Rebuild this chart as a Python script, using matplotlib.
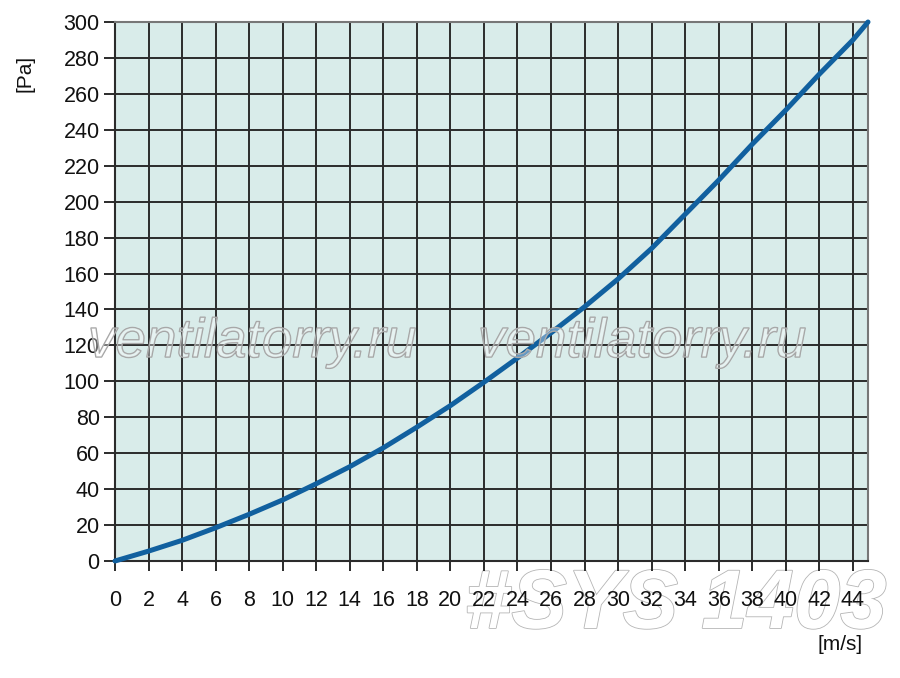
import matplotlib.pyplot as plt
import matplotlib.patheffects as pe

plt.rcParams['font.family'] = ['Liberation Sans', 'DejaVu Sans']

# data
speed = [0, 2, 4, 6, 8, 10, 12, 14, 16, 18, 20, 22, 24, 26, 28, 30,
         32, 34, 36, 38, 40, 42, 44, 44.9]
pressure = [0, 5.5, 11.5, 18.5, 26, 34, 43, 52.5, 63, 74.5, 86.5, 99.5,
            113, 127, 141.5, 157, 174, 193, 212, 232, 251, 271, 290, 300]
x_ticks = list(range(0, 45, 2))
y_ticks = list(range(0, 301, 20))

fig = plt.figure(figsize=(9, 6.78), dpi=100)
ax = fig.add_axes([115 / 900, 1 - 561 / 678, (868 - 115) / 900, (561 - 22) / 678])

ax.set_facecolor('#d9ecea')
ax.plot(speed, pressure, color='#11609f', lw=3.6, solid_capstyle='round',
        clip_on=False, zorder=3)

ax.set_xlim(0, 44.9)
ax.set_ylim(0, 300)
ax.set_xticks(x_ticks)
ax.set_yticks(y_ticks)
ax.grid(True, color='#2b2b2b', lw=1.4)
ax.set_axisbelow(True)

ax.tick_params(axis='x', direction='out', length=7, width=1.4, color='#2b2b2b',
               pad=14, labelsize=15.5, labelcolor='#111111')
ax.tick_params(axis='y', direction='out', length=8, width=1.4, color='#2b2b2b',
               pad=3, labelsize=15.5, labelcolor='#111111')

for side in ['left', 'bottom']:
    ax.spines[side].set_color('#2b2b2b')
    ax.spines[side].set_linewidth(1.5)
for side in ['top', 'right']:
    ax.spines[side].set_color('#777777')
    ax.spines[side].set_linewidth(1.5)

fig.text(25 / 900, 1 - 73 / 678, '[Pa]', rotation=90, ha='center', va='center',
         fontsize=15, color='#111111')
fig.text(840 / 900, 1 - 645 / 678, '[m/s]', ha='center', va='center',
         fontsize=15, color='#111111')

# watermarks
wm = [pe.Stroke(linewidth=1.0, foreground='#a0a0a0'), pe.Normal()]
for left in [88, 478]:
    fig.text(left / 900, 1 - 357 / 678, 'ventilatorry.ru', ha='left', va='baseline',
             fontsize=39.5, style='italic', color=(1, 1, 1, 0.2),
             path_effects=wm, zorder=5)

# drawn below the axes so the tick labels stay on top
fig.text(465 / 900, 1 - 628 / 678, '#SYS 1403', ha='left', va='baseline',
         fontsize=60, style='italic', weight='bold', color='white',
         path_effects=[pe.Stroke(linewidth=1.2, foreground='#b5b5b5'), pe.Normal()],
         zorder=-1)

fig.savefig('out.png', dpi=100)
